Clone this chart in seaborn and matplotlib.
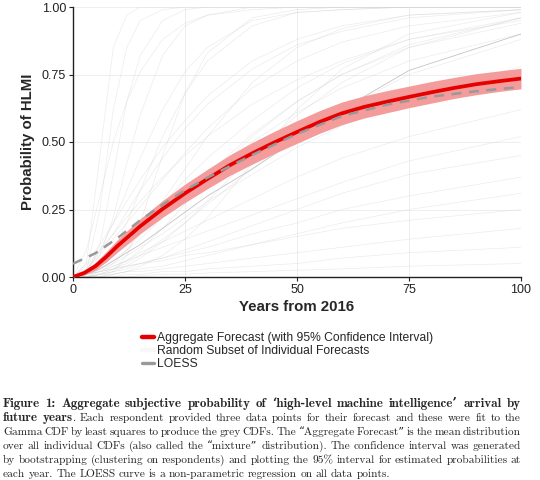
import matplotlib
matplotlib.use("Agg")
import numpy as np
import pandas as pd
import matplotlib.pyplot as plt
from matplotlib.lines import Line2D
import seaborn as sns

# aggregate forecast (red) with 95% interval
years = [0, 2.5, 5, 7.5, 10, 12.5, 15, 20, 25, 30, 35, 40, 45, 50, 55, 60, 65, 70, 75, 80, 85, 90, 95, 100]
aggregate = [0, .015, .04, .076, .116, .152, .188, .252, .31, .363, .414, .458, .499, .537, .574, .606, .63, .649, .667, .684, .70, .714, .725, .735]
ci_low = [0, .007, .026, .057, .093, .126, .16, .221, .276, .327, .376, .418, .458, .495, .532, .564, .589, .608, .627, .644, .661, .675, .687, .697]
ci_high = [.003, .023, .054, .095, .139, .178, .216, .283, .344, .399, .452, .498, .540, .579, .616, .648, .671, .690, .707, .724, .739, .753, .763, .773]

# LOESS curve
loess_years = [0, 5, 10, 15, 20, 25, 30, 35, 40, 50, 60, 70, 80, 90, 100]
loess = [0.049, 0.088, 0.145, 0.21, 0.268, 0.321, 0.368, 0.41, 0.452, 0.53, 0.596, 0.638, 0.668, 0.688, 0.704]

# individual forecasts (grey), read at these years
grey_years = [0, 3, 6, 9, 12, 15, 20, 25, 30, 40, 50, 60, 75, 100]
steep_curves = [
    [0, .05, .45, .85, .97, 1, 1, 1, 1, 1, 1, 1, 1, 1],
    [0, .02, .25, .62, .85, .95, .99, 1, 1, 1, 1, 1, 1, 1],
    [0, .01, .12, .38, .65, .82, .95, .99, 1, 1, 1, 1, 1, 1],
    [0, .01, .08, .22, .42, .60, .82, .93, .97, 1, 1, 1, 1, 1],
    [0, .10, .30, .50, .65, .76, .88, .94, .97, .99, 1, 1, 1, 1],
    [0, 0, 0, .02, .08, .20, .45, .68, .83, .96, .99, 1, 1, 1],
    [0, .02, .10, .20, .32, .44, .62, .76, .85, .95, .98, .99, 1, 1],
    [0, 0, .03, .10, .20, .32, .52, .68, .80, .93, .98, .99, 1, 1],
]
mid_curves = [
    [0, .03, .08, .14, .20, .26, .36, .46, .55, .70, .80, .87, .93, .98],
    [0, 0, .02, .05, .10, .16, .28, .40, .52, .72, .85, .92, .97, .99],
    [0, .01, .03, .06, .10, .14, .22, .30, .38, .53, .65, .75, .85, .94],
    [0, .04, .10, .16, .22, .28, .37, .45, .52, .64, .73, .80, .88, .95],
    [0, 0, .01, .02, .04, .07, .13, .20, .28, .45, .60, .72, .85, .96],
    [0, .01, .04, .08, .13, .18, .27, .36, .44, .58, .70, .79, .88, .96],
    [0, 0, 0, .01, .02, .04, .08, .14, .22, .42, .62, .77, .90, .98],
    [0, .02, .05, .09, .13, .17, .24, .31, .38, .50, .61, .70, .80, .90],
    [0, 0, .01, .03, .05, .08, .14, .20, .27, .40, .52, .62, .75, .88],
    [0, .05, .12, .20, .28, .36, .48, .58, .67, .80, .88, .93, .97, .99],
    [0, 0, .01, .03, .06, .10, .18, .27, .36, .52, .65, .75, .86, .96],
    [0, .03, .09, .16, .24, .32, .44, .55, .64, .77, .86, .91, .96, .99],
]
low_curves = [
    [0, .01, .02, .04, .06, .08, .11, .14, .17, .23, .29, .35, .43, .52],
    [0, 0, .01, .02, .03, .05, .07, .10, .13, .19, .25, .31, .38, .45],
    [0, .01, .03, .05, .08, .11, .16, .22, .28, .38, .48, .56, .66, .78],
    [0, .01, .02, .03, .04, .05, .07, .09, .11, .16, .20, .25, .30, .37],
    [0, 0, 0, .01, .02, .03, .04, .06, .08, .12, .16, .20, .25, .31],
    [0, .01, .02, .03, .04, .05, .06, .08, .09, .12, .15, .18, .21, .25],
    [0, 0, .01, .01, .02, .02, .03, .04, .05, .07, .09, .11, .14, .18],
    [0, 0, 0, 0, .01, .01, .02, .02, .03, .04, .05, .07, .09, .11],
    [0, 0, 0, 0, 0, .005, .01, .01, .015, .02, .025, .03, .04, .05],
    [0, .01, .02, .04, .06, .09, .13, .17, .21, .29, .37, .44, .52, .62],
]
dark_curve = [0, .01, .03, .06, .09, .12, .18, .24, .30, .40, .51, .62, .765, .90]

caption_lines = [
    [("Figure 1:  Aggregate subjective probability of ‘high-level machine intelligence’ arrival by", "bold")],
    [("future years", "bold"), (". Each respondent provided three data points for their forecast and these were fit to the", "normal")],
    [("Gamma CDF by least squares to produce the grey CDFs. The “Aggregate Forecast” is the mean distribution", "normal")],
    [("over all individual CDFs (also called the “mixture” distribution).  The confidence interval was generated", "normal")],
    [("by bootstrapping (clustering on respondents) and plotting the 95% interval for estimated probabilities at", "normal")],
    [("each year.  The LOESS curve is a non-parametric regression on all data points.", "normal")],
]

rows = []
for i, c in enumerate(steep_curves + mid_curves + low_curves):
    for x, p in zip(grey_years, c):
        rows.append({"curve": i, "year": x, "p": p})
grey_df = pd.DataFrame(rows)

sns.set_theme(style="whitegrid")
plt.rcParams["font.family"] = ["Liberation Sans", "DejaVu Sans"]

fig = plt.figure(figsize=(5.4, 4.8), dpi=100)
ax = fig.add_axes([73 / 540, 1 - 277 / 480, 448 / 540, 270 / 480])

sns.lineplot(data=grey_df, x="year", y="p", units="curve", estimator=None,
             color="#d2d2d2", lw=0.5, alpha=0.42, ax=ax)
sns.lineplot(x=grey_years, y=dark_curve, color="#c4c4c4", lw=0.6, ax=ax)

ax.fill_between(years, ci_low, ci_high, color="#f49c9c", lw=0, zorder=3)
sns.lineplot(x=years, y=aggregate, color="#e60000", lw=2.7, ax=ax, zorder=4)
sns.lineplot(x=loess_years, y=loess, color="#999999", lw=1.8, ax=ax, zorder=5,
             linestyle=(0, (4, 3)))

ax.set_xlim(0, 100)
ax.set_ylim(0, 1)
ax.set_xticks([0, 25, 50, 75, 100])
ax.set_yticks([0, 0.25, 0.5, 0.75, 1.0])
ax.set_yticklabels(["0.00", "0.25", "0.50", "0.75", "1.00"])
ax.set_facecolor("white")
ax.grid(True, color="#ebebeb", lw=0.6)
for s in ["top", "right"]:
    ax.spines[s].set_visible(False)
for s in ["left", "bottom"]:
    ax.spines[s].set_visible(True)
    ax.spines[s].set_color("#222222")
    ax.spines[s].set_linewidth(1.0)
ax.tick_params(axis="both", length=3, width=0.8, color="#222222", labelsize=9,
               labelcolor="#222222", pad=2, bottom=True, left=True)
ax.set_xlabel("Years from 2016", fontsize=10.8, fontweight="bold", labelpad=3)
ax.set_ylabel("Probability of HLMI", fontsize=10.8, fontweight="bold", labelpad=5)

handles = [
    Line2D([], [], color="#e60000", lw=3.2),
    Line2D([], [], color="#f7f7f7", lw=3.2),
    Line2D([], [], color="#999999", lw=2.4),
]
labels = ["Aggregate Forecast (with 95% Confidence Interval)",
          "Random Subset of Individual Forecasts", "LOESS"]
fig.legend(handles, labels, loc="upper left", bbox_to_anchor=(142 / 540, 1 - 332 / 480),
           frameon=False, fontsize=8.7, handlelength=1.0, handletextpad=0.25,
           labelspacing=0.1, borderpad=0, borderaxespad=0)

# justified caption, word by word
renderer = fig.canvas.get_renderer()
cap_left, cap_right = 3, 521
cap_baseline = [407, 421, 435, 449, 463, 477]
for li, (line, yy) in enumerate(zip(caption_lines, cap_baseline)):
    words = []
    for chunk, weight in line:
        if weight == "bold":
            fam, size = ["cmb10", "DejaVu Serif"], 9.4
        else:
            fam, size = ["cmr10", "DejaVu Serif"], 8.2
        parts = chunk.split()
        for k, w in enumerate(parts):
            # a chunk starting with punctuation sticks to the previous word
            glue = k == 0 and chunk[0] in ".,;:" and len(words) > 0
            words.append((w, fam, weight, size, glue))
    texts = [fig.text(0, 1 - yy / 480, w, family=fam, fontweight=wt, fontsize=sz,
                      va="baseline", ha="left") for w, fam, wt, sz, g in words]
    widths = [t.get_window_extent(renderer).width for t in texts]
    glues = [g for *_, g in words]
    n_gaps = sum(1 for g in glues[1:] if not g)
    last = li == len(caption_lines) - 1
    gap = 3.3 if last else (cap_right - cap_left - sum(widths)) / n_gaps
    x = cap_left
    for t, w, g in zip(texts, widths, glues):
        if g:
            x -= gap
        t.set_x(x / 540)
        x += w + gap

fig.savefig("out.png", dpi=100)
